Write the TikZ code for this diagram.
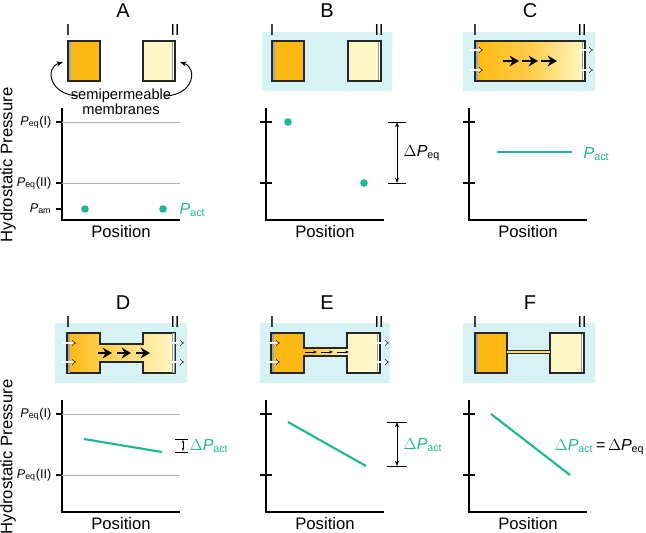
\documentclass[tikz,border=0pt]{standalone}
\usepackage{fontspec}
\setmainfont{Liberation Sans}
\usetikzlibrary{arrows.meta}
\definecolor{cy}{HTML}{D6F2F5}
\definecolor{org}{HTML}{FDB913}
\definecolor{lyel}{HTML}{FFF8C6}
\definecolor{grn}{HTML}{1DB894}
\tikzset{
 ttl/.style={font=\fontsize{15}{15}\selectfont},
 rom/.style={font=\fontsize{12}{12}\selectfont},
 poslab/.style={font=\fontsize{12.5}{13}\selectfont},
 ticklab/.style={font=\fontsize{9.5}{10}\selectfont, anchor=east},
 boxd/.style={draw=black!85, line width=0.9pt},
 memL/.style={fill=black!35},
 memR/.style={fill=white, draw=black!40, line width=0.3pt},
 gridl/.style={draw=black!30, line width=0.7pt},
 ax/.style={line width=1pt},
 gl/.style={grn, line width=1.6pt},
 glab/.style={grn, font=\fontsize{12}{12}\selectfont, anchor=west},
 flux/.style={double, double distance=1.3pt, line width=0.3pt, -{Implies[length=3pt]}},
 big/.style={line width=2pt, -{Stealth[length=7pt,width=8pt]}},
 dim/.style={line width=0.6pt, {Stealth[length=4pt]}-{Stealth[length=4pt]}}
}
\newcommand{\Pl}[1]{\textit{P}\textsubscript{#1}}
\newcommand{\axes}{%
 \draw[ax] (62,108) -- (62,220) -- (180,220);
 \node[poslab] at (121,232) {Position};}
\newcommand{\tks}{\draw[ax] (56,122) -- (68,122); \draw[ax] (56,183) -- (68,183);}
\newcommand{\plabels}{%
 \draw[gridl] (62,122) -- (180,122); \draw[gridl] (62,183) -- (180,183);
 \draw[ax] (56,122) -- (62,122); \draw[ax] (56,183) -- (62,183);
 \node[ticklab] at (56,122) {\Pl{eq}(I)};
 \node[ticklab] at (56,183) {\Pl{eq}(II)};}
\newcommand{\roms}{\node[rom] at (68,30) {I}; \node[rom] at (175,30) {II};}
\begin{document}
\begin{tikzpicture}[x=0.75pt,y=-0.75pt]
\useasboundingbox (0,0) rectangle (646,532);
\node[poslab, rotate=90] at (8,165) {Hydrostatic Pressure};
\node[poslab, rotate=90] at (8,457) {Hydrostatic Pressure};
% ---------- A
\begin{scope}
\node[ttl] at (123,11) {A};
\roms
\fill[org] (68,41) rectangle (100,81); \fill[memL] (68,41) rectangle (71,81); \draw[boxd] (68,41) rectangle (100,81);
\fill[lyel] (143,41) rectangle (175,81); \fill[memR] (172,41) rectangle (175,81); \draw[boxd] (143,41) rectangle (175,81);
\node[align=center, font=\fontsize{11}{11.5}\selectfont] (sm) at (121,102) {semipermeable\\membranes};
\draw[-{Stealth[length=5pt]}, line width=0.7pt] (78,96) .. controls (50,95) and (44,68) .. (63,62);
\draw[-{Stealth[length=5pt]}, line width=0.7pt] (165,96) .. controls (194,95) and (198,68) .. (180,62);
\axes \plabels
\draw[ax] (56,209) -- (62,209); \node[ticklab] at (56,209) {\Pl{am}};
\fill[grn] (85,209) circle (3.8); \fill[grn] (163,209) circle (3.8);
\node[glab] at (175,210) {\textit{P}\textsubscript{act}};
\end{scope}
% ---------- B
\begin{scope}[shift={(204,0)}]
\node[ttl] at (123,11) {B};
\fill[cy] (58,32) rectangle (188,91);
\roms
\fill[org] (68,41) rectangle (100,81); \fill[memL] (68,41) rectangle (71,81); \draw[boxd] (68,41) rectangle (100,81);
\fill[lyel] (144,41) rectangle (177,81); \fill[memR] (174,41) rectangle (177,81); \draw[boxd] (144,41) rectangle (177,81);
\axes \tks
\fill[grn] (84,122) circle (3.8); \fill[grn] (160,183) circle (3.8);
\draw[line width=0.6pt] (184,122) -- (202,122); \draw[line width=0.6pt] (184,183) -- (202,183);
\draw[dim] (193,122) -- (193,183);
\node[anchor=west, font=\fontsize{12}{12}\selectfont] at (195,153) {$\Delta$\Pl{eq}};
\end{scope}
% ---------- C
\begin{scope}[shift={(407,0)}]
\node[ttl] at (123,11) {C};
\fill[cy] (56,32) rectangle (188,91);
\roms
\shade[left color=org, right color=lyel, middle color=org!70!lyel] (68,41) rectangle (178,81);
\fill[memL] (68,41) rectangle (71,81); \fill[memR] (175,41) rectangle (178,81);
\draw[boxd] (68,41) rectangle (178,81);
\foreach \y in {50,70} {\draw[flux] (62,\y) -- (76,\y); \draw[flux] (172,\y) -- (186,\y);}
\foreach \x in {96,115,134} \draw[big] (\x,61) -- (\x+16,61);
\axes \tks
\draw[gl] (90,152) -- (165,152);
\node[glab] at (172,154) {\textit{P}\textsubscript{act}};
\end{scope}
% ---------- D
\begin{scope}[shift={(0,292)}]
\node[ttl] at (123,11) {D};
\fill[cy] (55,31) rectangle (187,91);
\roms
\path[left color=org, right color=lyel, draw=black!85, line width=0.9pt]
 (67,41) -- (100,41) -- (100,52) -- (143,52) -- (143,41) -- (175,41) -- (175,81) -- (143,81) -- (143,70) -- (100,70) -- (100,81) -- (67,81) -- cycle;
\fill[memL] (67.5,41.5) rectangle (70,80.5); \fill[memR] (172,41.5) rectangle (174.5,80.5);
\foreach \y in {51,70} {\draw[flux] (62,\y) -- (76,\y); \draw[flux] (170,\y) -- (184,\y);}
\foreach \x in {98,117,136} \draw[big] (\x,61) -- (\x+14,61);
\axes \plabels
\draw[gl] (84,147) -- (162,160);
\draw[line width=0.6pt] (175,147) -- (188,147); \draw[line width=0.6pt] (175,160) -- (188,160);
\draw[line width=0.6pt, {Stealth[length=2.5pt]}-{Stealth[length=2.5pt]}] (183,148) -- (183,159);
\node[glab] at (185,154) {$\Delta$\textit{P}\textsubscript{act}};
\end{scope}
% ---------- E
\begin{scope}[shift={(204,292)}]
\node[ttl] at (123,11) {E};
\fill[cy] (56,31) rectangle (186,91);
\roms
\fill[org] (67,41) rectangle (100,81);
\shade[left color=org, right color=lyel] (100,56) rectangle (143,64);
\fill[lyel] (143,41) rectangle (176,81);
\fill[memL] (67,41) rectangle (70,81); \fill[memR] (173,41) rectangle (176,81);
\draw[boxd] (67,41) -- (100,41) -- (100,56) -- (143,56) -- (143,41) -- (176,41) -- (176,81) -- (143,81) -- (143,64) -- (100,64) -- (100,81) -- (67,81) -- cycle;
\foreach \y in {51,70} {\draw[flux] (62,\y) -- (76,\y); \draw[flux] (171,\y) -- (185,\y);}
\foreach \x in {101,117,133} \draw[line width=0.6pt, -{Stealth[length=3pt]}] (\x,60) -- (\x+12,60);
\axes \tks
\draw[gl] (84,130) -- (162,174);
\draw[line width=0.6pt] (183,130) -- (203,130); \draw[line width=0.6pt] (183,174) -- (203,174);
\draw[dim] (193,130) -- (193,174);
\node[glab] at (195,153) {$\Delta$\textit{P}\textsubscript{act}};
\end{scope}
% ---------- F
\begin{scope}[shift={(407,292)}]
\node[ttl] at (123,11) {F};
\fill[cy] (56,31) rectangle (188,91);
\roms
\fill[org] (68,41) rectangle (100,81); \fill[memL] (68,41) rectangle (71,81); \draw[boxd] (68,41) rectangle (100,81);
\fill[lyel] (143,41) rectangle (177,81); \fill[memR] (174,41) rectangle (177,81); \draw[boxd] (143,41) rectangle (177,81);
\fill[lyel!50!org] (100,58.5) rectangle (143,61.5);
\draw[line width=0.7pt, black!85] (100,58.5) -- (143,58.5); \draw[line width=0.7pt, black!85] (100,61.5) -- (143,61.5);
\axes \tks
\draw[gl] (84,122) -- (163,183);
\node[glab] at (143,155) {$\Delta$\textit{P}\textsubscript{act}\,{\color{black}=\,$\Delta$\textit{P}\textsubscript{eq}}};
\end{scope}
\end{tikzpicture}
\end{document}
